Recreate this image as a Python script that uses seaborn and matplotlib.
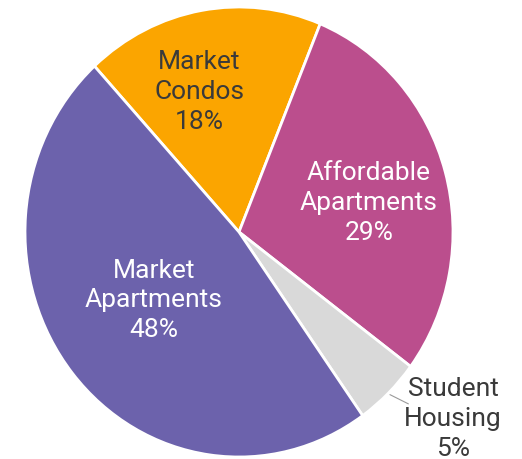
import numpy as np
import matplotlib
matplotlib.use("Agg")
import matplotlib.pyplot as plt
import seaborn as sns

categories = ["Market\nCondos", "Affordable\nApartments", "Student\nHousing", "Market\nApartments"]
shares = [18, 29, 5, 48]
colors = ["#FBA500", "#BB4E8D", "#D9D9D9", "#6C62AC"]
text_colors = ["#3a3a3a", "white", "#3a3a3a", "white"]
label_radius = [0.65, 0.62, 1.30, 0.50]
label_angle_shift = [6.5, -3.5, 6, -1.5]

sns.set_theme(style="white")
plt.rcParams["font.family"] = ["Roboto", "DejaVu Sans"]

fig = plt.figure(figsize=(5.22, 4.59), dpi=100)
ax = fig.add_axes([25 / 522, 2 / 459, 428 / 522, 450 / 459])

wedges, _ = ax.pie(
    shares,
    colors=colors,
    startangle=132.5,
    counterclock=False,
    wedgeprops=dict(edgecolor="white", linewidth=2.0),
)
ax.set_aspect("auto")
ax.set_xlim(-1, 1)
ax.set_ylim(-1, 1)
ax.axis("off")

for w, cat, val, tc, r, da in zip(wedges, categories, shares, text_colors, label_radius, label_angle_shift):
    mid = np.deg2rad((w.theta1 + w.theta2) / 2 + da)
    x, y = r * np.cos(mid), r * np.sin(mid)
    ax.text(x, y, f"{cat}\n{val}%", ha="center", va="center", color=tc,
            fontsize=19, linespacing=1.3)

# leader line for the small slice
w = wedges[2]
mid = np.deg2rad((w.theta1 + w.theta2) / 2)
ax.plot([1.01 * np.cos(mid), 1.1 * np.cos(mid + 0.03)],
        [1.01 * np.sin(mid), 1.1 * np.sin(mid + 0.03)],
        color="#9a9a9a", lw=0.8, clip_on=False)

fig.savefig("out.png", dpi=100)
